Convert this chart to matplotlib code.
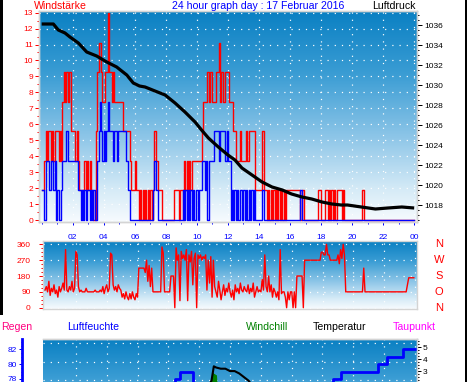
import numpy as np
import matplotlib
matplotlib.use("Agg")
import matplotlib.pyplot as plt
from matplotlib.colors import LinearSegmentedColormap
from matplotlib.patches import Rectangle
from matplotlib.ticker import MultipleLocator

plt.rcParams['font.family'] = ['Liberation Sans', 'DejaVu Sans']

# ------------------------------------------------------------------ data
title = "24 hour graph day : 17 Februar 2016"
hour_ticks = [2, 4, 6, 8, 10, 12, 14, 16, 18, 20, 22, 24]
hour_labels = ['02', '04', '06', '08', '10', '12', '14', '16', '18', '20', '22', '00']

# wind speed in Bft steps of 1.85, one digit per 5 minutes, one string per hour
level_step = 1.85
gust_levels = [
    "112323323233", "323245454553", "332321111212", "121100356654",
    "455755454444", "444333332111", "211010101010", "101322111000",
    "000000111101", "102121212222", "222234445455", "444556454455",
    "544433222322", "223233333111", "113311010101", "010101010111",
    "111111110110", "000000000011", "000110101010", "111101000000",
    "000000001000", "000000000000", "000000000000", "000000000000",
]
avg_levels = [
    "110222122120", "100122232222", "222211010101", "101010023432",
    "323433323323", "333332210000", "000000000000", "001211000000",
    "000000000000", "010101010101", "101122120222", "233332333323",
    "220101010110", "101010101000", "001100000000", "000000000000",
    "000000001000", "000000000000", "000000000000", "000000000000",
    "000000000000", "000000000000", "000000000000", "000000000000",
]

pressure_hours = [0, 0.75, 1.07, 1.5, 1.82, 2.36, 2.9, 3.54, 4.19, 4.83, 5.48,
                  5.9, 6.3, 6.66, 7.3, 7.95, 8.59, 9.23, 9.88, 10.3, 10.74,
                  11.38, 12.0, 12.45, 12.9, 13.55, 14.2, 14.84, 15.5, 16.1,
                  16.77, 17.4, 18.06, 18.7, 19.3, 19.7, 20.6, 21.5, 22.3,
                  23.2, 24.0]
pressure_hpa = [1036.1, 1036.1, 1035.5, 1035.2, 1034.8, 1034.2, 1033.3, 1032.9,
                1032.3, 1031.8, 1031.0, 1030.2, 1029.9, 1029.8, 1029.4, 1029.0,
                1028.2, 1027.3, 1026.3, 1025.5, 1024.7, 1023.8, 1023.0, 1022.5,
                1021.7, 1021.0, 1020.3, 1019.8, 1019.5, 1019.1, 1018.8, 1018.6,
                1018.3, 1018.1, 1018.0, 1018.0, 1017.8, 1017.6, 1017.7, 1017.8,
                1017.7]

# wind direction, 5 minute values, one list per hour
direction_deg = [
    [100, 120, 90, 150, 70, 110, 90, 130, 80, 100, 60, 120],
    [90, 110, 140, 100, 330, 100, 90, 120, 100, 150, 90, 110],
    [320, 300, 120, 90, 100, 90, 90, 90, 110, 90, 90, 90],
    [90, 90, 90, 100, 90, 90, 90, 100, 90, 120, 80, 110],
    [130, 90, 110, 310, 300, 130, 100, 120, 90, 130, 110, 100],
    [60, 80, 50, 90, 60, 45, 80, 50, 90, 60, 45, 80],
    [60, 225, 225, 225, 225, 225, 200, 270, 150, 240, 120, 225],
    [90, 90, 90, 90, 90, 90, 90, 345, 310, 90, 90, 90],
    [90, 90, 180, 180, 180, 0, 340, 270, 300, 40, 320, 280],
    [300, 270, 330, 40, 300, 260, 320, 130, 280, 310, 0, 300],
    [280, 300, 270, 290, 280, 300, 100, 270, 140, 290, 60, 270],
    [120, 90, 60, 150, 100, 45, 90, 130, 70, 110, 90, 140],
    [90, 60, 100, 45, 130, 90, 110, 80, 140, 100, 90, 120],
    [100, 90, 130, 80, 110, 90, 140, 60, 90, 120, 90, 100],
    [90, 160, 100, 300, 120, 90, 180, 90, 130, 60, 110, 90],
    [60, 90, 45, 330, 80, 90, 90, 60, 0, 90, 45, 90],
    [90, 0, 90, 0, 180, 180, 180, 180, 180, 0, 270, 270],
    [270, 270, 270, 270, 270, 270, 270, 270, 270, 270, 270, 315],
    [315, 300, 300, 360, 300, 300, 270, 270, 270, 270, 270, 270],
    [300, 250, 330, 280, 360, 300, 90, 90, 90, 90, 90, 90],
    [90, 90, 90, 90, 90, 90, 90, 90, 225, 90, 90, 90],
    [90, 90, 90, 90, 90, 90, 90, 90, 90, 90, 90, 90],
    [90, 90, 90, 90, 90, 90, 90, 90, 90, 90, 90, 90],
    [90, 90, 90, 90, 90, 90, 130, 170, 170, 170, 170, 170],
]
compass_labels = ['N', 'W', 'S', 'O', 'N']
compass_deg = [360, 270, 180, 90, 0]

humidity_hours = [0, 8.43, 8.75, 9.6, 18.67, 19.2, 21.6, 22.2, 23.2, 24.0]
humidity_pct = [76, 78, 79, 77, 78, 79, 80, 81, 82, 82]
humidity_ticks = [78, 80, 82]
temp_hours = [10.5, 10.8, 10.95, 11.1, 11.4, 11.7, 12.0, 12.3, 12.6, 12.9, 13.2, 13.5]
temp_c = [1.5, 2.2, 3.4, 3.3, 3.2, 3.2, 3.0, 3.0, 2.8, 2.5, 2.2, 1.7]
temp_ticks = [2, 3, 4, 5]
temp_labels = ['', '3', '4', '5']
chill_hours = [10.85, 10.9, 10.95, 11.0, 11.05, 11.1, 11.15, 11.2]
chill_c = [1.5, 2.8, 1.8, 2.7, 1.9, 2.6, 1.7, 1.5]

# ------------------------------------------------------------------ layout
W, H = 470, 382
PT = 0.72  # points per pixel at 100 dpi
fig = plt.figure(figsize=(W / 100, H / 100), dpi=100)
fig.patch.set_facecolor('white')


def ax_px(x0, y0, x1, y1):
    return fig.add_axes([x0 / W, 1 - y1 / H, (x1 - x0) / W, (y1 - y0) / H])


def ftext(x, y, s, **kw):
    fig.text(x / W, 1 - y / H, s, **kw)


grad = LinearSegmentedColormap.from_list(
    'g', [(0.0, '#0a80c3'), (0.3, '#3b9dd4'), (0.6, '#8ec6e8'),
          (0.85, '#d6ebf7'), (1.0, '#f7fbfe')])


def background(ax):
    ax.imshow(np.linspace(0, 1, 256).reshape(-1, 1), cmap=grad, aspect='auto',
              extent=(0, 1, 0, 1), transform=ax.transAxes, zorder=0,
              interpolation='bilinear')


def dotted_grid(ax):
    ax.grid(True, which='major', color='white', linestyle=(0, (1, 5)),
            linewidth=PT * 1.2)


def light_spines(ax):
    for s in ax.spines.values():
        s.set_color('#d4d4d4')
        s.set_linewidth(1.0)


# ------------------------------------------------------------------ main panel
ax = ax_px(39, 11, 417, 222)
background(ax)
ax.set_xlim(-0.174, 24.18)
ax.set_ylim(-0.125, 13.1)

t5 = np.arange(24 * 12 + 1) / 12.0
gust = [int(c) * level_step for h in gust_levels for c in h]
avg = [int(c) * level_step for h in avg_levels for c in h]
gust.append(gust[-1])
avg.append(avg[-1])
ax.step(t5, gust, where='post', color='#ff0000', lw=1.0, zorder=3)
ax.step(t5, avg, where='post', color='#0000ff', lw=1.0, zorder=4)

ax.set_yticks(range(14))
ax.yaxis.set_minor_locator(MultipleLocator(0.5))
ax.set_xticks(hour_ticks)
ax.set_xticklabels(hour_labels)
ax.xaxis.set_minor_locator(MultipleLocator(1))
ax.tick_params(axis='y', which='major', colors='#ff0000', labelsize=6,
               length=4 * PT, width=1 * PT, pad=2 * PT, direction='out')
ax.tick_params(axis='y', which='minor', colors='#ff0000', length=2 * PT,
               width=1 * PT)
ax.tick_params(axis='x', which='major', colors='#0000ff', labelsize=6,
               length=3 * PT, width=1 * PT, pad=9 * PT)
ax.tick_params(axis='x', which='minor', colors='#0000ff', length=2 * PT,
               width=1 * PT)
dotted_grid(ax)
light_spines(ax)

axp = ax.twinx()
axp.set_ylim(1016.3, 1037.4)
axp.plot(pressure_hours, pressure_hpa, color='black', lw=2.3,
         solid_capstyle='butt', zorder=5)
axp.set_yticks(range(1018, 1037, 2))
axp.yaxis.set_minor_locator(MultipleLocator(0.5))
axp.tick_params(axis='y', which='major', colors='black', labelsize=6,
                length=5 * PT, width=1 * PT, pad=2 * PT)
axp.tick_params(axis='y', which='minor', colors='black', length=2 * PT,
                width=1 * PT)
light_spines(axp)

ftext(34, 9.3, 'Windstärke', color='#ff0000', fontsize=7.6, va='baseline')
ftext(172, 9.3, title, color='#0000ff', fontsize=7.6, va='baseline')
ftext(372, 9.3, 'Luftdruck', color='black', fontsize=7.6, va='baseline')

# ------------------------------------------------------------------ direction panel
axd = ax_px(43, 241, 417, 309)
background(axd)
axd.set_xlim(-0.13, 24.12)
axd.set_ylim(-7.4, 378.9)
dirs = [v for h in direction_deg for v in h]
td = np.arange(len(dirs)) / 12.0
axd.plot(td, dirs, color='#ff0000', lw=1.0, zorder=3)
axd.set_yticks([0, 90, 180, 270, 360])
axd.yaxis.set_minor_locator(MultipleLocator(22.5))
axd.set_xticks(hour_ticks)
axd.tick_params(axis='x', length=0, labelbottom=False)
axd.tick_params(axis='y', which='major', colors='#ff0000', labelsize=6,
                length=4.5 * PT, width=1 * PT, pad=8 * PT)
axd.tick_params(axis='y', which='minor', colors='#ff0000', length=2 * PT,
                width=1 * PT)
axd.grid(True, which='major', axis='y', color='white', linestyle=(0, (1, 5)),
         linewidth=PT * 1.2)
axd.grid(True, which='major', axis='x', color='white', linestyle=(0, (1, 5)),
         linewidth=PT * 1.2)
light_spines(axd)
tr = axd.get_yaxis_transform()
for lab, d in zip(compass_labels, compass_deg):
    axd.text((439 - 43) / 374, d, lab, transform=tr, color='#ff0000',
             fontsize=8, ha='center', va='center', clip_on=False)

# ------------------------------------------------------------------ bottom panel
ftext(0.7, 330.5, 'Regen', color='#ff0080', fontsize=7.6, va='baseline')
ftext(66.7, 330.5, 'Luftfeuchte', color='#0000ff', fontsize=7.6, va='baseline')
ftext(246, 330.5, 'Windchill', color='#008000', fontsize=7.6, va='baseline')
ftext(313, 330.5, 'Temperatur', color='black', fontsize=7.6, va='baseline')
ftext(393, 330.5, 'Taupunkt', color='#ff00ff', fontsize=7.6, va='baseline')

axb = ax_px(42.7, 339.3, 417, 470)
background(axb)
axb.set_xlim(-0.16, 24.14)
axb.set_ylim(65.7, 83.35)
axb.step(humidity_hours, humidity_pct, where='post', color='#0000ff', lw=2.0,
         zorder=4)
axb.set_yticks(humidity_ticks)
axb.yaxis.set_minor_locator(MultipleLocator(0.5))
axb.set_xticks(hour_ticks)
axb.tick_params(axis='x', length=0, labelbottom=False)
axb.grid(True, which='major', axis='x', color='white', linestyle=(0, (1, 5)),
         linewidth=PT * 1.2)
for ypx in (343.3, 361.7, 380.1):
    f = 1 - (ypx - 339.3) / (470 - 339.3)
    axb.plot([0, 1], [f, f], transform=axb.transAxes, color='white',
             linestyle=(0, (1, 5)), linewidth=PT * 1.2, zorder=1)
light_spines(axb)
axb.spines['left'].set_position(('outward', 21 * PT))
axb.spines['left'].set_color('#0000ff')
axb.spines['left'].set_linewidth(2.0)
axb.tick_params(axis='y', which='major', colors='#0000ff', labelsize=6,
                length=3 * PT, width=1 * PT, pad=2 * PT)
axb.tick_params(axis='y', which='minor', colors='#0000ff', length=1.5 * PT,
                width=1 * PT)

axt = axb.twinx()
axt.set_ylim(-5.31, 5.67)
axt.plot(chill_hours, chill_c, color='#008000', lw=1.2, zorder=4)
axt.plot(temp_hours, temp_c, color='black', lw=1.5, zorder=5)
axt.set_yticks(temp_ticks)
axt.set_yticklabels(temp_labels)
axt.yaxis.set_minor_locator(MultipleLocator(0.25))
axt.tick_params(axis='y', which='major', colors='black', labelsize=6,
                length=4 * PT, width=1 * PT, pad=2 * PT)
axt.tick_params(axis='y', which='minor', colors='black', length=2 * PT,
                width=1 * PT)
light_spines(axt)
axt.spines['left'].set_visible(False)

# ------------------------------------------------------------------ frame lines
fig.add_artist(Rectangle((0, 1 - 315 / H), 2.5 / W, 315 / H,
                         transform=fig.transFigure, color='black', lw=0))
fig.add_artist(Rectangle((465 / W, 0), 1.8 / W, 1,
                         transform=fig.transFigure, color='black', lw=0))

fig.savefig('out.png', dpi=100)
